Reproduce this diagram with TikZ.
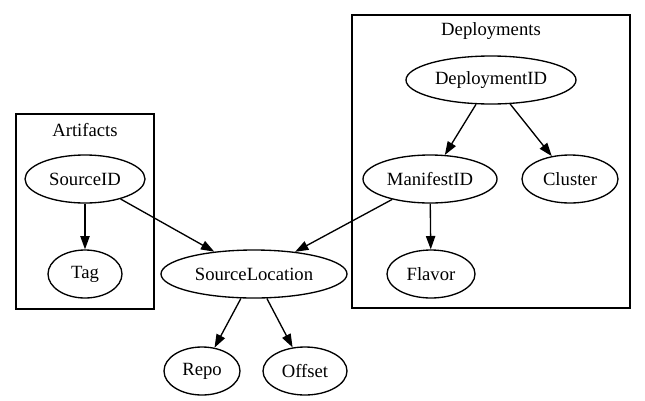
\documentclass[tikz,border=0pt]{standalone}
\usepackage{fontspec}
\setmainfont{Liberation Serif}
\usepackage{tikz}
\usetikzlibrary{shapes.geometric, arrows.meta, positioning}
\tikzstyle{entity} = [ellipse, draw=black, line width=1pt, minimum height=36pt, inner sep=0pt, text centered]
\tikzstyle{cluster} = [rectangle, draw=black, line width=1pt]
\tikzstyle{arrow} = [line width=1pt, -{Triangle[length=10pt, width=7pt]}]

\begin{document}
\begin{tikzpicture}[x=0.75pt, y=-0.75pt, font=\fontsize{14}{16}\selectfont]
\useasboundingbox (0,0) rectangle (645,400);

% Artifacts
\draw [cluster] (16,114) rectangle (154,309);
\node (artlabel) at (85,130) {Artifacts};
\node (sid) [entity, minimum width=90pt] at (85,179) {SourceID};
\node (tag) [entity, minimum width=55.5pt] at (85,274) {Tag};

% Deployments
\draw [cluster] (352,15) rectangle (630,308);
\node (deplabel) at (491,31) {Deployments};
\node (did) [entity, minimum width=127.5pt] at (491,80) {DeploymentID};
\node (mid) [entity, minimum width=100.5pt] at (430,179) {ManifestID};
\node (clu) [entity, minimum width=72pt] at (570,179) {Cluster};
\node (flavor) [entity, minimum width=66pt] at (431,274) {Flavor};

% Location
\node (sloc) [entity, minimum width=139.5pt] at (254,274) {SourceLocation};
\node (repo) [entity, minimum width=57pt] at (202,371) {Repo};
\node (offset) [entity, minimum width=63pt] at (305,371) {Offset};

% Arrows
\draw [arrow] (sid) -- (tag);
\draw [arrow] (sid) -- (sloc);
\draw [arrow] (did) -- (mid);
\draw [arrow] (did) -- (clu);
\draw [arrow] (mid) -- (flavor);
\draw [arrow] (mid) -- (sloc);
\draw [arrow] (sloc) -- (repo);
\draw [arrow] (sloc) -- (offset);

\end{tikzpicture}
\end{document}
